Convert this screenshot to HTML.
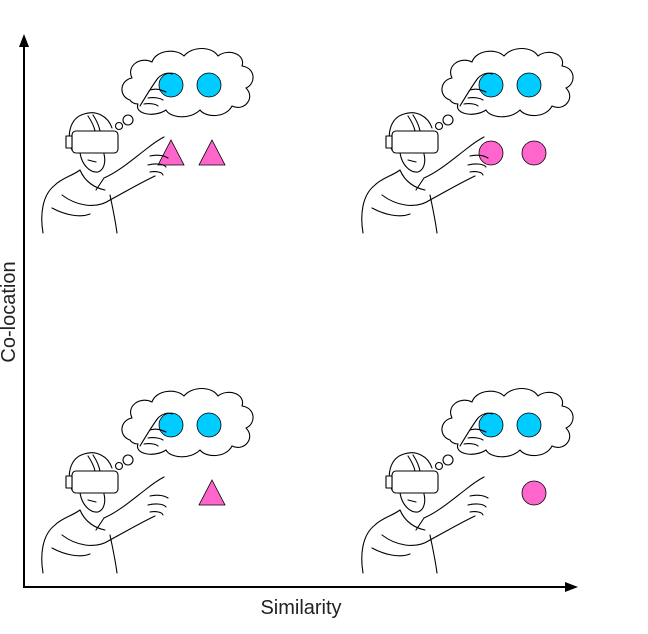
<!DOCTYPE html>
<html><head><meta charset="utf-8"><style>
html,body{margin:0;padding:0;background:#fff;}
svg{display:block}
text{font-family:"Liberation Sans",sans-serif;}
</style></head><body>
<svg width="648" height="634" viewBox="0 0 648 634" xmlns="http://www.w3.org/2000/svg">
<defs>
<g id="person" fill="none" stroke="#000" stroke-width="1.1" stroke-linejoin="round" stroke-linecap="round">
  <path d="M130,100 C118,96 120,80 132,78 C126,66 140,56 152,62 C156,50 176,48 184,56 C192,46 212,46 218,56 C228,48 246,54 242,66 C256,68 256,84 246,88 C256,98 244,112 232,106 C226,118 206,118 200,110 C190,120 170,118 166,110 C154,118 134,114 138,104 C134,104 131,102 130,100 Z" fill="#fff"/>
  <circle cx="128" cy="120" r="5" fill="#fff"/>
  <circle cx="119" cy="126" r="3.5" fill="#fff"/>
  <path d="M43,233 C40,215 42,195 55,185 C62,178 72,176 80,170 M117,233 C115,218 112,205 110,195 M80,170 C85,182 95,188 105,190 M62,195 C75,205 95,210 110,200"/>
  <path d="M52,208 C65,215 80,218 90,214 M96,190 L104,178"/>
  <path d="M72,150 C66,135 70,118 84,114 C96,110 108,116 112,128 M80,153 C82,165 90,173 98,172 C104,170 106,162 104,154 M88,160 L96,162"/>
  <path d="M88,116 C92,122 94,126 95,131 M93,115 C97,121 99,126 100,131"/>
  <rect x="72" y="131" width="46" height="22" rx="4" fill="#fff"/>
  <path d="M66,136 L72,136 L72,148 L66,148 Z" fill="#fff"/>
</g>
<g id="arm" fill="none" stroke="#000" stroke-width="1.1" stroke-linecap="round">
  <path d="M110,200 C125,192 140,183 155,176 M104,178 C118,172 132,160 145,150 C150,146 158,140 164,137 M150,156 C158,154 165,156 168,158 M148,165 C156,163 164,164 166,167 M150,172 C156,171 162,172 163,175"/>
</g>
<g id="cloudhand" fill="none" stroke="#000" stroke-width="1.1" stroke-linecap="round">
  <path d="M140,106 C146,96 152,86 158,78 C162,74 168,72 172,74 M150,90 C156,88 162,90 166,92 M148,98 C154,97 160,98 163,100 M144,104 C150,103 156,104 158,106"/>
</g>
<path id="tri" d="M0,-13 L13,12 L-13,12 Z" fill="#ff66cc" stroke="#000" stroke-width="0.8"/>
<circle id="bc" r="12" fill="#00ccff" stroke="#000" stroke-width="0.8"/>
<circle id="pc" r="12" fill="#ff66cc" stroke="#000" stroke-width="0.8"/>
</defs>

<g>
  <use href="#person"/>
  <use href="#bc" x="171" y="85"/><use href="#bc" x="209" y="85"/>
  <use href="#cloudhand"/>
  <use href="#tri" x="171" y="153"/><use href="#tri" x="212" y="153"/>
  <use href="#arm"/>
</g>
<g transform="translate(320,0)">
  <use href="#person"/>
  <use href="#bc" x="171" y="85"/><use href="#bc" x="209" y="85"/>
  <use href="#cloudhand"/>
  <use href="#pc" x="171" y="153"/><use href="#pc" x="214" y="153"/>
  <use href="#arm"/>
</g>
<g transform="translate(0,340)">
  <use href="#person"/>
  <use href="#bc" x="171" y="85"/><use href="#bc" x="209" y="85"/>
  <use href="#cloudhand"/>
  <use href="#tri" x="212" y="153"/>
  <use href="#arm"/>
</g>
<g transform="translate(320,340)">
  <use href="#person"/>
  <use href="#bc" x="171" y="85"/><use href="#bc" x="209" y="85"/>
  <use href="#cloudhand"/>
  <use href="#pc" x="214" y="153"/>
  <use href="#arm"/>
</g>

<line x1="24" y1="44" x2="24" y2="587" stroke="#000" stroke-width="2"/>
<path d="M24,34 L19,47 L29,47 Z" fill="#000"/>
<line x1="23" y1="587" x2="568" y2="587" stroke="#000" stroke-width="2"/>
<path d="M578,587 L565,582 L565,592 Z" fill="#000"/>
<text x="301" y="614" font-size="20" text-anchor="middle" fill="#222">Similarity</text>
<text transform="translate(15,312) rotate(-90)" font-size="20" text-anchor="middle" fill="#222">Co-location</text>
</svg>
</body></html>
